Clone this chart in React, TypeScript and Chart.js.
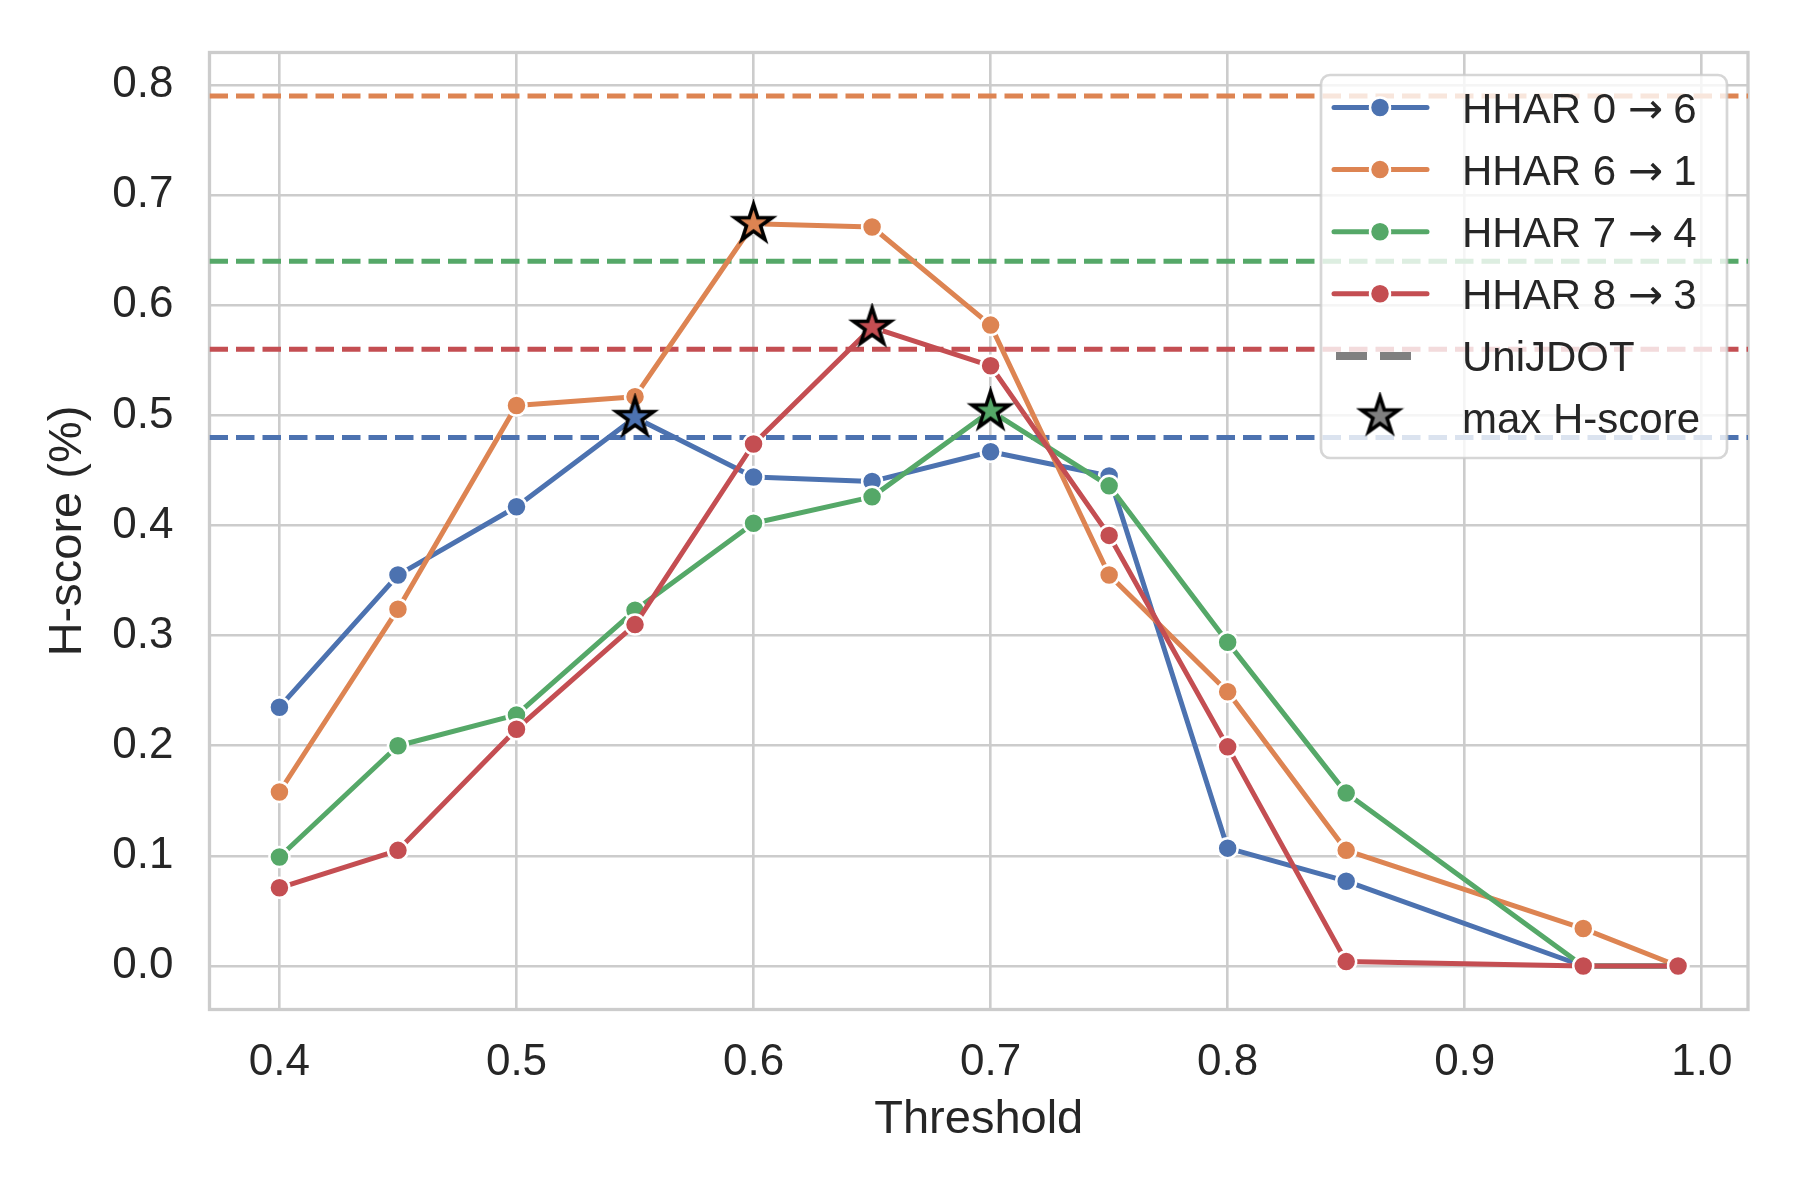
import { useEffect, useRef } from "react";
import { Chart, registerables } from "chart.js";
import type { Plugin } from "chart.js";

Chart.register(...registerables);

// thresholds (x) and H-score per transfer task
const thresholds = [0.4, 0.45, 0.5, 0.55, 0.6, 0.65, 0.7, 0.75, 0.8, 0.85, 0.95, 0.99];

const hhar06 = [0.235, 0.355, 0.417, 0.498, 0.444, 0.44, 0.467, 0.445, 0.107, 0.077, 0.0, 0.0];
const hhar61 = [0.158, 0.324, 0.509, 0.517, 0.674, 0.671, 0.582, 0.355, 0.249, 0.105, 0.034, 0.0];
const hhar74 = [0.099, 0.2, 0.228, 0.323, 0.402, 0.426, 0.504, 0.436, 0.294, 0.157, 0.0, 0.0];
const hhar83 = [0.071, 0.105, 0.215, 0.31, 0.474, 0.58, 0.545, 0.391, 0.199, 0.004, 0.0, 0.0];

// UniJDOT reference level for each task (dashed lines)
const uniJdot = [0.48, 0.79, 0.64, 0.56];

// legend text: [source, target] of each task
const seriesTasks = [
  ["HHAR 0", "6"],
  ["HHAR 6", "1"],
  ["HHAR 7", "4"],
  ["HHAR 8", "3"],
];
const seriesLabels = seriesTasks.map(([a, b]) => `${a} → ${b}`);
const seriesColors = ["#4c72b0", "#dd8452", "#55a868", "#c44e52"];
const uniLabel = "UniJDOT";
const starLabel = "max H-score";

const xTicks = [0.4, 0.5, 0.6, 0.7, 0.8, 0.9, 1.0];
const xTickLabels = ["0.4", "0.5", "0.6", "0.7", "0.8", "0.9", "1.0"];
const yTicks = [0, 0.1, 0.2, 0.3, 0.4, 0.5, 0.6, 0.7, 0.8];
const yTickLabels = ["0.0", "0.1", "0.2", "0.3", "0.4", "0.5", "0.6", "0.7", "0.8"];

const FONT = '"Liberation Sans", Arial, sans-serif';
const ARROW_FONT = '"DejaVu Sans", sans-serif';
const TEXT = "#262626";
const GRID = "#cccccc";

const allSeries = [hhar06, hhar61, hhar74, hhar83];

// matplotlib-like 5% margins
const xLo = Math.min(...thresholds);
const xHi = Math.max(...thresholds);
const xMin = xLo - 0.05 * (xHi - xLo);
const xMax = xHi + 0.05 * (xHi - xLo);
const yLo = Math.min(0, ...allSeries.flat());
const yHi = Math.max(...allSeries.flat(), ...uniJdot);
const yMin = yLo - 0.05 * (yHi - yLo);
const yMax = yHi + 0.05 * (yHi - yLo);

function makeStar(fill: string) {
  const R = 19.5;
  const r = R * 0.382;
  const size = Math.ceil(2 * (R + 5));
  const c = document.createElement("canvas");
  c.width = size;
  c.height = size;
  const g = c.getContext("2d")!;
  g.beginPath();
  for (let i = 0; i < 10; i++) {
    const rad = i % 2 === 0 ? R : r;
    const a = -Math.PI / 2 + (i * Math.PI) / 5;
    const px = size / 2 + rad * Math.cos(a);
    const py = size / 2 + rad * Math.sin(a);
    if (i === 0) g.moveTo(px, py);
    else g.lineTo(px, py);
  }
  g.closePath();
  g.fillStyle = fill;
  g.fill();
  g.lineWidth = 3.6;
  g.lineJoin = "miter";
  g.strokeStyle = "#000000";
  g.stroke();
  return c;
}

// light gray frame around the plot area
const framePlugin: Plugin<"line"> = {
  id: "frame",
  beforeDatasetsDraw(chart) {
    const { ctx, chartArea: a } = chart;
    ctx.save();
    ctx.strokeStyle = GRID;
    ctx.lineWidth = 3.3;
    ctx.strokeRect(a.left, a.top, a.right - a.left, a.bottom - a.top);
    ctx.restore();
  },
};

// legend box inside the plot, upper right
const legendPlugin: Plugin<"line"> = {
  id: "boxLegend",
  afterDraw(chart) {
    const { ctx, chartArea: a } = chart;
    const boxW = 406;
    const boxH = 383;
    const left = a.right - 21 - boxW;
    const top = a.top + 22.5;
    ctx.save();
    ctx.beginPath();
    ctx.roundRect(left, top, boxW, boxH, 9);
    ctx.fillStyle = "rgba(255,255,255,0.8)";
    ctx.fill();
    ctx.strokeStyle = "rgba(204,204,204,0.8)";
    ctx.lineWidth = 2.7;
    ctx.stroke();

    const rowY = (i: number) => top + 32.5 + i * 62.1;
    const lx0 = left + 13;
    const lx1 = left + 106;
    const mx = left + 59;
    const tx = left + 141;

    ctx.textBaseline = "alphabetic";
    ctx.textAlign = "left";

    seriesTasks.forEach(([src, dst], i) => {
      const y = rowY(i);
      ctx.beginPath();
      ctx.moveTo(lx0, y);
      ctx.lineTo(lx1, y);
      ctx.strokeStyle = seriesColors[i];
      ctx.lineWidth = 5;
      ctx.lineCap = "round";
      ctx.stroke();
      ctx.beginPath();
      ctx.arc(mx, y, 10, 0, Math.PI * 2);
      ctx.fillStyle = seriesColors[i];
      ctx.fill();
      ctx.strokeStyle = "#ffffff";
      ctx.lineWidth = 2.5;
      ctx.stroke();

      // "HHAR a → b" with a math-style arrow
      ctx.fillStyle = TEXT;
      ctx.font = `42px ${FONT}`;
      ctx.fillText(src, tx, y + 15);
      let cx = tx + ctx.measureText(src).width + 12;
      ctx.font = `42px ${ARROW_FONT}`;
      ctx.fillText("→", cx, y + 15);
      cx += ctx.measureText("→").width + 10;
      ctx.font = `42px ${FONT}`;
      ctx.fillText(dst, cx, y + 15);
    });

    ctx.font = `42px ${FONT}`;

    // UniJDOT dashed sample
    const yU = rowY(4);
    ctx.beginPath();
    ctx.setLineDash([31, 13]);
    ctx.moveTo(lx0 + 2, yU);
    ctx.lineTo(lx0 + 77, yU);
    ctx.strokeStyle = "#808080";
    ctx.lineWidth = 8;
    ctx.lineCap = "butt";
    ctx.stroke();
    ctx.setLineDash([]);
    ctx.fillStyle = TEXT;
    ctx.fillText(uniLabel, tx, yU + 15);

    // star sample
    const yS = rowY(5);
    const star = makeStar("#808080");
    ctx.drawImage(star, mx - star.width / 2, yS - 2 - star.height / 2);
    ctx.fillStyle = TEXT;
    ctx.fillText(starLabel, tx, yS + 15);
    ctx.restore();
  },
};

export default function App() {
  const canvasRef = useRef<HTMLCanvasElement | null>(null);
  const chartRef = useRef<Chart | null>(null);

  useEffect(() => {
    if (!canvasRef.current) return;
    if (chartRef.current) {
      chartRef.current.destroy();
      chartRef.current = null;
    }

    const lineSets = allSeries.map((vals, i) => ({
      label: seriesLabels[i],
      data: thresholds.map((x, j) => ({ x, y: vals[j] })),
      borderColor: seriesColors[i],
      backgroundColor: seriesColors[i],
      borderWidth: 5,
      borderCapStyle: "round" as const,
      borderJoinStyle: "round" as const,
      pointRadius: 10,
      pointBorderColor: "#ffffff",
      pointBorderWidth: 2.5,
      pointBackgroundColor: seriesColors[i],
      fill: false,
      tension: 0,
      order: 2 - i * 0.1,
    }));

    const dashSets = uniJdot.map((v, i) => ({
      label: `${uniLabel} ${i}`,
      data: [
        { x: xMin, y: v },
        { x: xMax, y: v },
      ],
      borderColor: seriesColors[i],
      borderWidth: 5,
      borderDash: [18.5, 8],
      borderCapStyle: "butt" as const,
      pointRadius: 0,
      fill: false,
      order: 3,
    }));

    const starSets = allSeries.map((vals, i) => {
      const best = vals.indexOf(Math.max(...vals));
      return {
        label: `${starLabel} ${i}`,
        data: [{ x: thresholds[best], y: vals[best] }],
        showLine: false,
        pointStyle: makeStar(seriesColors[i]),
        pointRadius: 10,
        order: 0,
      };
    });

    chartRef.current = new Chart(canvasRef.current, {
      type: "line",
      data: { datasets: [...lineSets, ...dashSets, ...starSets] as any },
      plugins: [framePlugin, legendPlugin],
      options: {
        responsive: false,
        animation: false,
        devicePixelRatio: 1,
        layout: { padding: { top: 52.5, right: 52, bottom: 0, left: 0 } },
        plugins: {
          legend: { display: false },
          tooltip: { enabled: false },
        },
        scales: {
          x: {
            type: "linear",
            min: xMin,
            max: xMax,
            afterBuildTicks: (axis: any) => {
              axis.ticks = xTicks.map((value) => ({ value }));
            },
            afterFit: (scale: any) => {
              scale.height = 190.5;
              scale.paddingLeft = 0;
              scale.paddingRight = 0;
            },
            border: { display: false },
            grid: { color: GRID, lineWidth: 2.6, drawTicks: false },
            ticks: {
              autoSkip: false,
              maxRotation: 0,
              padding: 27,
              color: TEXT,
              font: { family: FONT, size: 44 },
              callback: (_v: any, idx: number) => xTickLabels[idx],
            },
            title: {
              display: true,
              text: "Threshold",
              color: TEXT,
              font: { family: FONT, size: 47, lineHeight: 1.2 },
              padding: { top: 0, bottom: 52 },
            },
          },
          y: {
            type: "linear",
            min: yMin,
            max: yMax,
            afterBuildTicks: (axis: any) => {
              axis.ticks = yTicks.map((value) => ({ value }));
            },
            afterFit: (scale: any) => {
              scale.width = 209.5;
              scale.paddingTop = 0;
              scale.paddingBottom = 0;
            },
            border: { display: false },
            grid: { color: GRID, lineWidth: 2.6, drawTicks: false },
            ticks: {
              autoSkip: false,
              padding: 36,
              color: TEXT,
              font: { family: FONT, size: 44 },
              callback: (_v: any, idx: number) => yTickLabels[idx],
            },
            title: {
              display: true,
              text: "H-score (%)",
              color: TEXT,
              font: { family: FONT, size: 47, lineHeight: 1.2 },
              padding: { top: 40, bottom: 0 },
            },
          },
        },
      },
    });

    return () => {
      if (chartRef.current) {
        chartRef.current.destroy();
        chartRef.current = null;
      }
    };
  }, []);

  return (
    <div
      style={{
        position: "absolute",
        left: 0,
        top: 0,
        width: 1800,
        height: 1200,
        background: "#ffffff",
      }}
    >
      <canvas ref={canvasRef} width={1800} height={1200} style={{ width: 1800, height: 1200 }} />
    </div>
  );
}
